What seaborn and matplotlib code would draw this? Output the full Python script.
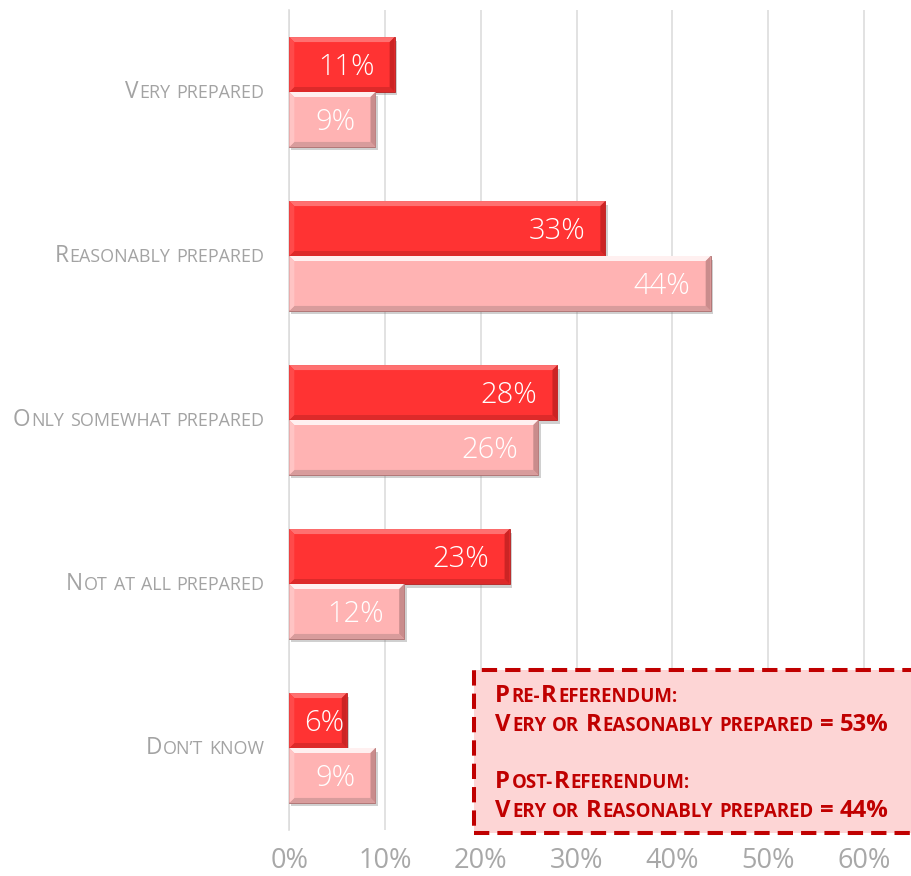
import matplotlib
matplotlib.use("Agg")
import matplotlib.pyplot as plt
import numpy as np
import pandas as pd
import seaborn as sns
from matplotlib.patches import Rectangle, Polygon
from matplotlib.transforms import Affine2D

# ---- data -------------------------------------------------------------
categories = ["Very prepared", "Reasonably prepared", "Only somewhat prepared",
              "Not at all prepared", "Don’t know"]
post_values = [11, 33, 28, 23, 6]   # red bars
pre_values = [9, 44, 26, 12, 9]     # pink bars
series = ["Post-Referendum", "Pre-Referendum"]
x_ticks = [0, 10, 20, 30, 40, 50, 60]

pre_prepared = pre_values[0] + pre_values[1]
post_prepared = post_values[0] + post_values[1]
summary_lines = [
    "Pre-Referendum:",
    f"Very or Reasonably prepared = {pre_prepared}%",
    "",
    "Post-Referendum:",
    f"Very or Reasonably prepared = {post_prepared}%",
]

# ---- style ------------------------------------------------------------
sns.set_style("white")
FONT = ["Open Sans", "DejaVu Sans"]
plt.rcParams["font.family"] = FONT

RED = "#FF3333"
PINK = "#FFB3B3"
GRID = "#DDDDDD"
LABEL_GREY = "#A3A3A3"
DARK_RED = "#C00000"

W, H, DPI = 911, 876, 100
fig = plt.figure(figsize=(W / DPI, H / DPI), dpi=DPI)
ax_left, ax_right, ax_top, ax_bot = 289.3, 911.8, 10, 830
ax = fig.add_axes([ax_left / W, 1 - ax_bot / H, (ax_right - ax_left) / W, (ax_bot - ax_top) / H])

df = pd.DataFrame({
    "category": categories * 2,
    "series": [series[0]] * len(categories) + [series[1]] * len(categories),
    "value": post_values + pre_values,
})

sns.barplot(data=df, y="category", x="value", hue="series", hue_order=series,
            order=categories, palette=[RED, PINK], saturation=1, width=0.67,
            orient="h", legend=False, ax=ax, errorbar=None, zorder=3)

XMAX = 65
ax.set_xlim(0, XMAX)
ax.set_ylim(len(categories) - 0.5, -0.5)

# pixel -> data scale factors
sx = XMAX / (ax_right - ax_left)
sy = len(categories) / (ax_bot - ax_top)

# ---- axes cosmetics ---------------------------------------------------
ax.set_axisbelow(True)
ax.grid(axis="x", color=GRID, linewidth=1.2)
ax.grid(axis="y", visible=False)
for side in ["top", "right", "bottom"]:
    ax.spines[side].set_visible(False)
ax.spines["left"].set_color(GRID)
ax.spines["left"].set_linewidth(1.2)
ax.set_xlabel("")
ax.set_ylabel("")
ax.set_xticks(x_ticks)
ax.set_xticklabels([f"{t}%" for t in x_ticks], fontsize=19.5, color="#A8A8A8")
ax.tick_params(axis="x", length=0, pad=12)
ax.set_yticks(range(len(categories)))
ax.set_yticklabels([])
ax.set_yticks(np.arange(-0.5, len(categories), 1.0), minor=True)
ax.tick_params(axis="y", which="major", length=0)
ax.tick_params(axis="y", which="minor", length=5, width=1.2, color=GRID, direction="out")

# ---- bevelled bars ----------------------------------------------------
shades = {
    RED: dict(top="#FF7070", left="#FF4A4A", right="#CC2424", bottom="#DD2A2A", edge="#B22020"),
    PINK: dict(top="#FFF0F0", left="#FFC4C4", right="#C98C8C", bottom="#D89C9C", edge="#A86C6C"),
}
bev = 5.0
for container, color in zip(ax.containers, [RED, PINK]):
    sh = shades[color]
    for p in container.patches:
        x0, yt, w, h = p.get_x(), p.get_y(), p.get_width(), p.get_height()
        x1, yb = x0 + w, yt + h
        dx, dy = bev * sx, bev * sy
        p.set_edgecolor(sh["edge"])
        p.set_linewidth(0.6)
        p.set_zorder(3)
        ax.add_patch(Rectangle((x0 + 1.5 * sx, yt + 3.5 * sy), w + 1.0 * sx, h,
                               facecolor="#7A7A7A", alpha=0.35, edgecolor="none", zorder=2.5))
        polys = [
            ([(x0, yt), (x1, yt), (x1 - dx, yt + dy), (x0 + dx, yt + dy)], sh["top"]),
            ([(x0, yb), (x1, yb), (x1 - dx, yb - dy), (x0 + dx, yb - dy)], sh["bottom"]),
            ([(x1, yt), (x1, yb), (x1 - dx, yb - dy), (x1 - dx, yt + dy)], sh["right"]),
            ([(x0, yt), (x0, yb), (x0 + dx, yb - dy), (x0 + dx, yt + dy)], sh["left"]),
        ]
        for verts, c in polys:
            ax.add_patch(Polygon(verts, closed=True, facecolor=c, edgecolor="none", zorder=3.1))

# ---- value labels -----------------------------------------------------
value_texts = []
for container, vals in zip(ax.containers, [post_values, pre_values]):
    for p, v in zip(container.patches, vals):
        yc = p.get_y() + p.get_height() / 2
        t = ax.text(v - 2.1, yc, f"{v}%", ha="right", va="baseline", fontsize=21,
                    fontweight="light", color="white", zorder=5,
                    transform=ax.transData + Affine2D().translate(0, -10.5))
        value_texts.append((t, v, yc))


# ---- small-caps text helper --------------------------------------------
pending = []


def small_caps(text, x, y, transform, big, small, color, weight="normal",
               ha="left", dy_px=0.0):
    runs = []
    for ch in text:
        if ch == " ":
            runs.append((" ", small))
            continue
        size = small if (ch.islower() or ch in "-:’") else big
        if runs and runs[-1][0] != " " and runs[-1][1] == size:
            runs[-1] = (runs[-1][0] + ch.upper(), size)
        else:
            runs.append((ch.upper(), size))
    items = []
    for s, size in runs:
        if s == " ":
            items.append((None, size))
        else:
            t = fig.text(x, y, s, transform=transform, fontsize=size, color=color,
                         fontweight=weight, ha="left", va="baseline", zorder=6)
            items.append((t, size))
    pending.append((items, transform, ha, dy_px))


yaxis_tf = ax.get_yaxis_transform()
label_x = (265.5 - ax_left) / (ax_right - ax_left)
for i, cat in enumerate(categories):
    small_caps(cat, label_x, i, yaxis_tf, 16.3, 12.9, LABEL_GREY, ha="right", dy_px=-5.5)

# summary box
box = Rectangle((474 / W, 1 - 833 / H), (918 - 474) / W, (833 - 670) / H,
                transform=fig.transFigure, facecolor="#FDD5D5", edgecolor=DARK_RED,
                linewidth=2.9, linestyle=(0, (3.8, 2.0)), zorder=5)
fig.add_artist(box)
baselines = [702.5, 731.0, None, 788.3, 816.8]
for line, yb in zip(summary_lines, baselines):
    if yb is None:
        continue
    small_caps(line, 495 / W, 1 - yb / H, fig.transFigure, 17.2, 13.4, DARK_RED, weight="bold")

# ---- layout of composed text -------------------------------------------
fig.canvas.draw()
renderer = fig.canvas.get_renderer()
for items, tf, ha, dy in pending:
    widths = []
    for t, size in items:
        if t is None:
            widths.append(0.27 * size * DPI / 72)
        else:
            widths.append(t.get_window_extent(renderer).width + 0.06 * size * DPI / 72)
    total = sum(widths)
    off = -total if ha == "right" else 0.0
    for (t, size), wdt in zip(items, widths):
        if t is not None:
            t.set_transform(tf + Affine2D().translate(off, dy))
        off += wdt

for t, v, yc in value_texts:
    wpx = t.get_window_extent(renderer).width
    right = max(v - 2.1, 1.5 + wpx * sx)
    t.set_position((right, yc))

fig.savefig("out.png", dpi=DPI)
